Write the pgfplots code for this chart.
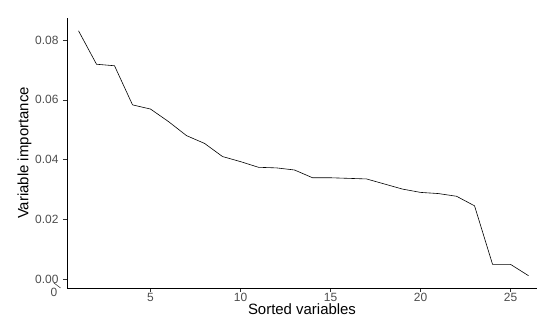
\documentclass[border=0pt]{standalone}
\usepackage{fontspec}
\setmainfont{Liberation Sans}
\usepackage{pgfplots}
\pgfplotsset{compat=1.18}
\definecolor{ticktext}{HTML}{4D4D4D}
\definecolor{tickline}{HTML}{333333}
\begin{document}
\begin{tikzpicture}[x=1bp,y=1bp]
\useasboundingbox (-67,-47) rectangle (470,279);
\begin{axis}[
  at={(0,0)}, anchor=origin,
  scale only axis,
  width=470bp, height=270bp,
  xmin=0.36, xmax=26.47,
  ymin=-0.003, ymax=0.0874,
  axis lines*=left,
  axis line style={black, line width=0.55bp, -},
  xtick={5,10,15,20,25},
  ytick={0,0.02,0.04,0.06,0.08},
  scaled y ticks=false,
  yticklabel style={/pgf/number format/fixed, /pgf/number format/fixed zerofill, /pgf/number format/precision=2},
  /pgf/number format/assume math mode=true,
  tick align=outside,
  major tick length=4bp,
  tick style={tickline, line width=0.55bp},
  ticklabel style={font=\fontsize{12}{12}\selectfont, text=ticktext},
  xticklabel style={anchor=north, inner sep=0pt, yshift=-1bp},
  yticklabel style={xshift=-1bp},
  xlabel={Sorted variables},
  ylabel={Variable importance},
  label style={font=\fontsize{15}{15}\selectfont, text=black},
  xlabel style={yshift=1bp},
  ylabel style={yshift=-3bp},
  clip=false,
]
\addplot[black, line width=0.6bp] coordinates {
(1,0.0831) (2,0.0719) (3,0.0714) (4,0.0583) (5,0.0569) (6,0.0527)
(7,0.0480) (8,0.0454) (9,0.0410) (10,0.0393) (11,0.0374) (12,0.0372)
(13,0.0365) (14,0.0339) (15,0.0339) (16,0.0337) (17,0.0335) (18,0.0318)
(19,0.0301) (20,0.0290) (21,0.0286) (22,0.0277) (23,0.0245) (24,0.0049)
(25,0.0049) (26,0.0011)
};
\draw[tickline, line width=0.55bp] (axis cs:0,-0.003) -- ++(0,-4bp)
  node[below, inner sep=0pt, yshift=-5bp, font=\fontsize{12}{12}\selectfont, text=ticktext] {0};
\end{axis}
\end{tikzpicture}
\end{document}
